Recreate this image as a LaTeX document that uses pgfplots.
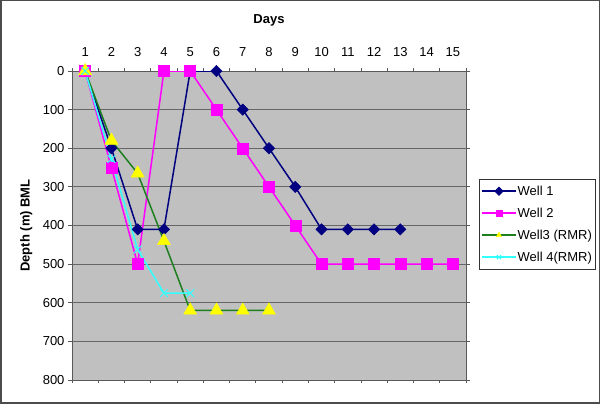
\documentclass[border=0pt]{standalone}
\usepackage{fontspec}
\setmainfont{Liberation Sans}
\usepackage{pgfplots}
\pgfplotsset{compat=1.18}
\definecolor{plotgray}{HTML}{C0C0C0}
\definecolor{wellnavy}{HTML}{000080}
\definecolor{wellmag}{HTML}{FF00FF}
\definecolor{wellgreen}{HTML}{1E7F1E}
\definecolor{wellyellow}{HTML}{FFFF00}
\definecolor{wellcyan}{HTML}{33FFFF}
\newcommand{\chartfont}{\fontsize{13}{15}\selectfont}
\begin{document}
\begin{tikzpicture}
\useasboundingbox (0pt,0pt) rectangle (600pt,404pt);
\draw[line width=1.5pt, color=black!70] (0.75pt,0.75pt) rectangle (599.25pt,403.25pt);
\begin{axis}[
    at={(72pt,24pt)}, anchor=south west,
    scale only axis, width=394pt, height=309pt,
    xmin=0.5, xmax=15.5, ymin=0, ymax=800,
    y dir=reverse,
    axis background/.style={fill=plotgray},
    axis line style={draw=black!65, line width=0.8pt},
    xticklabel pos=upper,
    xtick={1,...,15},
    minor xtick={0.5,1.5,...,15.5},
    every major x tick/.append style={draw=none},
    ytick={0,100,...,800},
    ymajorgrids,
    major grid style={draw=black!60, line width=0.8pt},
    tick align=outside,
    major tick length=4pt, minor tick length=3pt,
    every tick/.append style={black!65, line width=0.8pt},
    tick label style={font=\chartfont},
    xticklabel style={anchor=center, yshift=15pt},
    /pgf/number format/assume math mode=true,
    title={\bfseries Days},
    title style={font=\chartfont, at={(axis description cs:0.5,1.1456)}, anchor=center},
    ylabel={\bfseries Depth (m) BML},
    ylabel style={font=\chartfont, at={(axis description cs:-0.116,0.5)}, anchor=center},
    legend style={at={(axis description cs:1.033,0.6505)}, anchor=north west,
        draw=black!80, fill=white, font=\chartfont, row sep=8pt,
        nodes={inner sep=1pt, text height=10pt, text depth=2pt},
        inner xsep=2pt, inner ysep=5pt},
    legend cell align=left,
    legend image code/.code={\draw[mark repeat=2,mark phase=2]
        plot coordinates {(0pt,0pt) (17pt,0pt) (34pt,0pt)};},
    legend image post style={mark size=3pt},
]
\addplot[wellnavy, line width=1.5pt, mark=square*, mark size=4pt,
    mark options={rotate=45, fill=wellnavy, draw=wellnavy, line width=0.5pt}]
    coordinates {(1,0) (2,200) (3,410) (4,410) (5,0) (6,0) (7,100) (8,200)
    (9,300) (10,410) (11,410) (12,410) (13,410)};
\addlegendentry{Well 1}
\addplot[wellmag, line width=1.5pt, mark=square*, mark size=5.5pt,
    mark options={fill=wellmag, draw=wellmag, line width=0.5pt}]
    coordinates {(1,0) (2,250) (3,500) (4,0) (5,0) (6,100) (7,200) (8,300)
    (9,400) (10,500) (11,500) (12,500) (13,500) (14,500) (15,500)};
\addlegendentry{Well 2}
\addplot[wellgreen, line width=1.5pt, mark=triangle*, mark size=7.5pt,
    mark options={fill=wellyellow, draw=wellyellow, line width=0.5pt}]
    coordinates {(1,0) (2,180) (3,265) (4,440) (5,620) (6,620) (7,620) (8,620)};
\addlegendentry{Well3 (RMR)}
\addplot[wellcyan, line width=1.5pt, mark=x, mark size=5.5pt,
    mark options={draw=wellcyan, line width=1pt}]
    coordinates {(1,0) (2,228) (3,462) (4,575) (5,575)};
\addlegendentry{Well 4(RMR)}
\end{axis}
\end{tikzpicture}
\end{document}
